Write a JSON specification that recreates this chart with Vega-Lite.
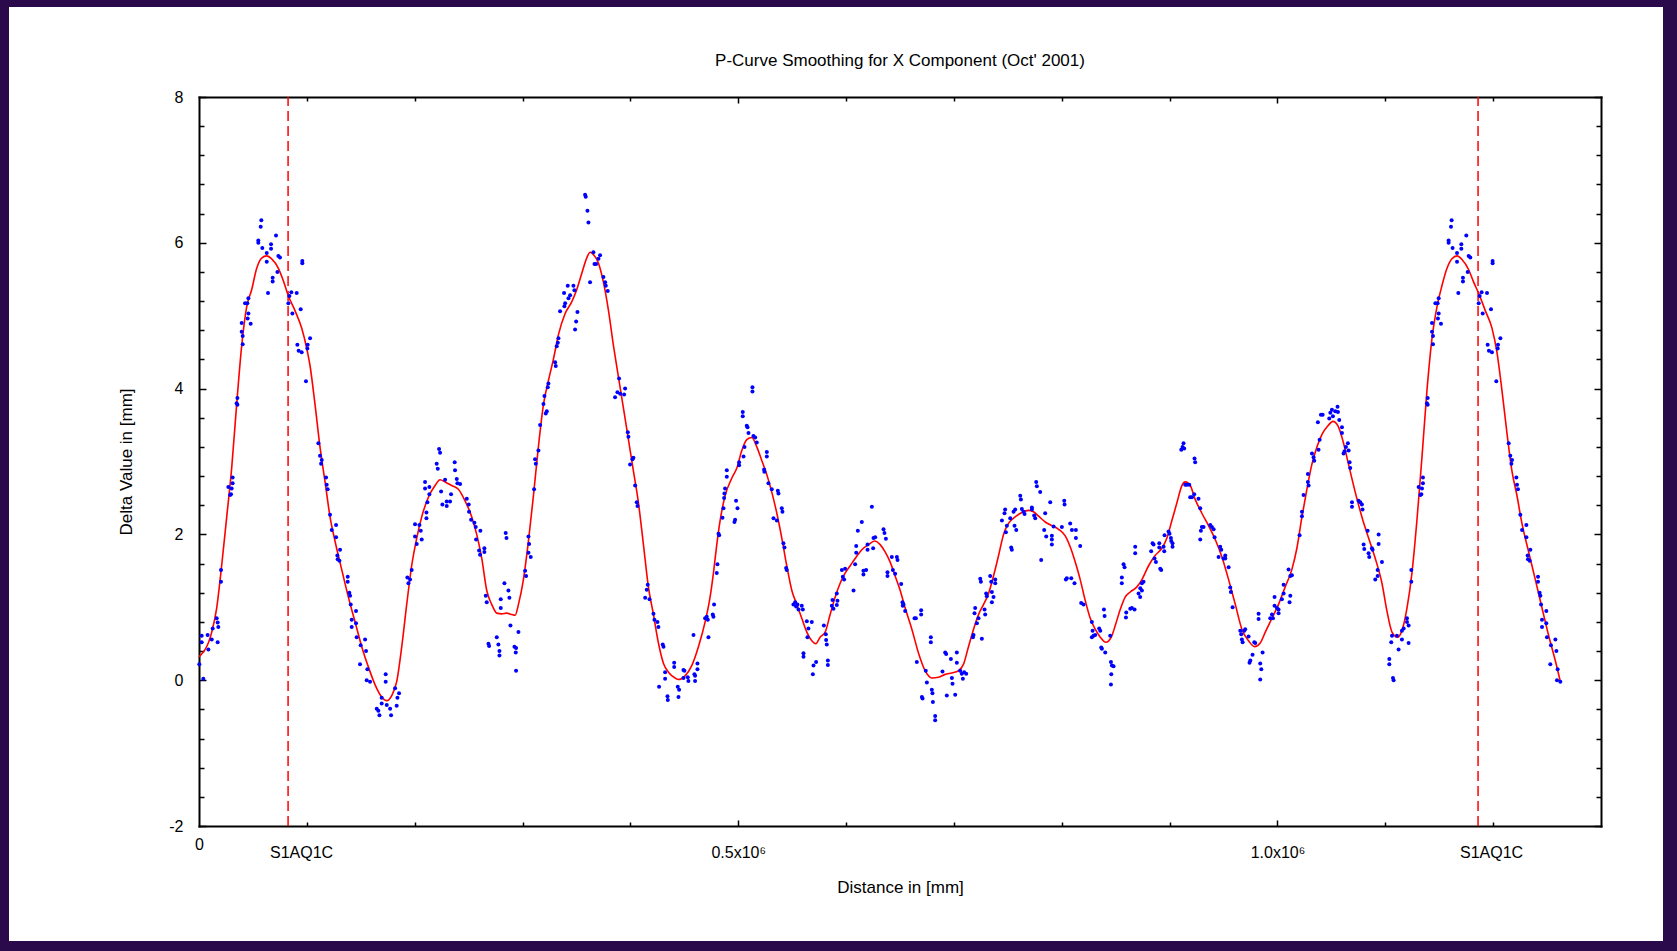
{
  "$schema": "https://vega.github.io/schema/vega-lite/v6.json",
  "width": 1656,
  "height": 936,
  "autosize": {"type": "none"},
  "padding": {"left": 8, "top": 6, "right": 13, "bottom": 9},
  "background": "#2B0A4B",
  "title": {
    "text": "P-Curve Smoothing for X Component (Oct' 2001)",
    "anchor": "middle",
    "frame": "group",
    "offset": -64,
    "dx": 64,
    "fontSize": 17,
    "font": "Liberation Sans",
    "fontWeight": "normal",
    "color": "#000000"
  },
  "config": {
    "view": {"fill": "#FFFFFF", "stroke": "#2B0A4B", "strokeWidth": 2},
    "font": "Liberation Sans",
    "axis": {"labelFont": "Liberation Sans", "titleFont": "Liberation Sans", "grid": false}
  },
  "datasets": {
    "marks": [{"d": 82600, "name": "S1AQ1C"}, {"d": 1186000, "name": "S1AQ1C"}],
    "curve": [
      {"d":0,"v":0.32},{"d":11800,"v":0.66},{"d":16400,"v":0.99},{"d":21000,"v":1.57},{"d":25700,"v":2.24},{"d":30300,"v":2.91},{"d":34900,"v":3.78},{"d":39600,"v":4.59},{"d":44200,"v":5.12},{"d":48900,"v":5.36},{"d":53500,"v":5.65},{"d":58100,"v":5.79},{"d":62800,"v":5.82},{"d":67400,"v":5.78},{"d":73600,"v":5.65},{"d":78200,"v":5.48},{"d":82900,"v":5.27},{"d":89000,"v":5.07},{"d":95200,"v":4.83},{"d":99900,"v":4.55},{"d":103000,"v":4.31},{"d":107600,"v":3.78},{"d":112200,"v":3.2},{"d":116900,"v":2.72},{"d":121500,"v":2.24},{"d":126100,"v":1.91},{"d":132300,"v":1.52},{"d":138500,"v":1.14},{"d":144700,"v":0.8},{"d":150900,"v":0.46},{"d":157100,"v":0.18},{"d":163200,"v":-0.06},{"d":169400,"v":-0.23},{"d":174100,"v":-0.28},{"d":178700,"v":-0.21},{"d":183300,"v":-0.02},{"d":188000,"v":0.46},{"d":192600,"v":1.04},{"d":197200,"v":1.57},{"d":201900,"v":1.95},{"d":206500,"v":2.24},{"d":212700,"v":2.51},{"d":218900,"v":2.67},{"d":223500,"v":2.75},{"d":228200,"v":2.72},{"d":234300,"v":2.67},{"d":240500,"v":2.62},{"d":246700,"v":2.46},{"d":252900,"v":2.24},{"d":257500,"v":2.0},{"d":262200,"v":1.67},{"d":266800,"v":1.23},{"d":271400,"v":1.04},{"d":276100,"v":0.92},{"d":280700,"v":0.91},{"d":285300,"v":0.92},{"d":290000,"v":0.9},{"d":293100,"v":0.89},{"d":296200,"v":1.04},{"d":300800,"v":1.38},{"d":305500,"v":1.91},{"d":310100,"v":2.53},{"d":314700,"v":3.2},{"d":319400,"v":3.78},{"d":324000,"v":4.11},{"d":328600,"v":4.4},{"d":333300,"v":4.74},{"d":339500,"v":5.03},{"d":345600,"v":5.19},{"d":350300,"v":5.36},{"d":354900,"v":5.58},{"d":359500,"v":5.79},{"d":362600,"v":5.87},{"d":365700,"v":5.84},{"d":370400,"v":5.72},{"d":375000,"v":5.46},{"d":379700,"v":5.07},{"d":384300,"v":4.59},{"d":388900,"v":4.16},{"d":393600,"v":3.73},{"d":398200,"v":3.3},{"d":402800,"v":2.87},{"d":407500,"v":2.43},{"d":412100,"v":1.86},{"d":416700,"v":1.28},{"d":421400,"v":0.9},{"d":426000,"v":0.51},{"d":430700,"v":0.23},{"d":435300,"v":0.11},{"d":441500,"v":0.03},{"d":444600,"v":0.01},{"d":450700,"v":0.06},{"d":456900,"v":0.2},{"d":463100,"v":0.46},{"d":469300,"v":0.8},{"d":473900,"v":1.14},{"d":477000,"v":1.47},{"d":480100,"v":1.86},{"d":483200,"v":2.19},{"d":487800,"v":2.53},{"d":494000,"v":2.77},{"d":498700,"v":2.91},{"d":503300,"v":3.15},{"d":507900,"v":3.3},{"d":512600,"v":3.33},{"d":517200,"v":3.2},{"d":521900,"v":3.01},{"d":526500,"v":2.82},{"d":531100,"v":2.58},{"d":535800,"v":2.29},{"d":540400,"v":1.95},{"d":545000,"v":1.57},{"d":549700,"v":1.23},{"d":554300,"v":1.04},{"d":558900,"v":0.85},{"d":563600,"v":0.66},{"d":568200,"v":0.54},{"d":571900,"v":0.5},{"d":575900,"v":0.59},{"d":580600,"v":0.66},{"d":585200,"v":0.9},{"d":589900,"v":1.14},{"d":594500,"v":1.33},{"d":599100,"v":1.47},{"d":603800,"v":1.57},{"d":608400,"v":1.67},{"d":614600,"v":1.79},{"d":620800,"v":1.86},{"d":626400,"v":1.91},{"d":631600,"v":1.86},{"d":636200,"v":1.76},{"d":640900,"v":1.62},{"d":645500,"v":1.43},{"d":650200,"v":1.23},{"d":654800,"v":0.99},{"d":661000,"v":0.7},{"d":667200,"v":0.37},{"d":673300,"v":0.13},{"d":679500,"v":0.03},{"d":685700,"v":0.04},{"d":691900,"v":0.08},{"d":698100,"v":0.1},{"d":704300,"v":0.13},{"d":708900,"v":0.22},{"d":713500,"v":0.46},{"d":718200,"v":0.7},{"d":722800,"v":0.9},{"d":727500,"v":1.04},{"d":732100,"v":1.19},{"d":736700,"v":1.43},{"d":741400,"v":1.71},{"d":746000,"v":2.0},{"d":750600,"v":2.15},{"d":756800,"v":2.24},{"d":763000,"v":2.3},{"d":769200,"v":2.33},{"d":773800,"v":2.31},{"d":778500,"v":2.25},{"d":784700,"v":2.17},{"d":790800,"v":2.12},{"d":797000,"v":2.07},{"d":803200,"v":1.98},{"d":807800,"v":1.83},{"d":812500,"v":1.62},{"d":817100,"v":1.38},{"d":821800,"v":1.09},{"d":826400,"v":0.85},{"d":831000,"v":0.7},{"d":835700,"v":0.59},{"d":840900,"v":0.52},{"d":845900,"v":0.59},{"d":849600,"v":0.75},{"d":854200,"v":0.97},{"d":858800,"v":1.14},{"d":863500,"v":1.21},{"d":869700,"v":1.28},{"d":874300,"v":1.38},{"d":880500,"v":1.57},{"d":886600,"v":1.71},{"d":892800,"v":1.81},{"d":897500,"v":1.95},{"d":902100,"v":2.19},{"d":906700,"v":2.43},{"d":911400,"v":2.67},{"d":914500,"v":2.72},{"d":919100,"v":2.67},{"d":923700,"v":2.48},{"d":929900,"v":2.29},{"d":936100,"v":2.12},{"d":942300,"v":1.93},{"d":948500,"v":1.69},{"d":954700,"v":1.38},{"d":960900,"v":1.04},{"d":967000,"v":0.7},{"d":973200,"v":0.54},{"d":978800,"v":0.46},{"d":984000,"v":0.51},{"d":988700,"v":0.66},{"d":994900,"v":0.85},{"d":1001000,"v":1.04},{"d":1007200,"v":1.28},{"d":1013400,"v":1.52},{"d":1018000,"v":1.81},{"d":1022700,"v":2.24},{"d":1027300,"v":2.62},{"d":1031900,"v":2.96},{"d":1036600,"v":3.2},{"d":1041200,"v":3.37},{"d":1046800,"v":3.49},{"d":1051400,"v":3.55},{"d":1056100,"v":3.49},{"d":1060400,"v":3.3},{"d":1065900,"v":2.96},{"d":1072100,"v":2.58},{"d":1078300,"v":2.24},{"d":1084500,"v":1.95},{"d":1090700,"v":1.67},{"d":1096900,"v":1.33},{"d":1101500,"v":0.95},{"d":1106200,"v":0.66},{"d":1111400,"v":0.59},{"d":1115400,"v":0.68},{"d":1120100,"v":0.99},{"d":1124700,"v":1.47},{"d":1129300,"v":2.19},{"d":1134000,"v":3.06},{"d":1138600,"v":3.97},{"d":1143300,"v":4.69},{"d":1147900,"v":5.12},{"d":1152500,"v":5.41},{"d":1157200,"v":5.65},{"d":1161800,"v":5.78},{"d":1166500,"v":5.82},{"d":1171100,"v":5.77},{"d":1177300,"v":5.63},{"d":1181900,"v":5.46},{"d":1186500,"v":5.31},{"d":1192700,"v":5.07},{"d":1198900,"v":4.83},{"d":1203500,"v":4.5},{"d":1208200,"v":3.97},{"d":1212800,"v":3.39},{"d":1217400,"v":2.87},{"d":1222100,"v":2.53},{"d":1226700,"v":2.15},{"d":1232900,"v":1.76},{"d":1239100,"v":1.38},{"d":1245300,"v":0.99},{"d":1251500,"v":0.61},{"d":1257600,"v":0.27},{"d":1262300,"v":-0.02}
    ],
    "pts": [
      {"d":300,"v":0.22},{"d":2500,"v":0.61},{"d":2500,"v":0.52},{"d":4000,"v":0.02},{"d":8000,"v":0.62},{"d":8700,"v":0.42},{"d":11800,"v":0.56},{"d":12700,"v":0.71},{"d":16400,"v":0.85},{"d":17300,"v":0.79},{"d":17900,"v":0.73},{"d":17300,"v":0.52},{"d":20400,"v":1.51},{"d":20400,"v":1.35},{"d":27200,"v":2.65},{"d":28800,"v":2.54},{"d":30300,"v":2.63},{"d":31200,"v":2.7},{"d":31200,"v":2.78},{"d":29700,"v":2.55},{"d":35600,"v":3.87},{"d":35600,"v":3.78},{"d":34900,"v":3.8},{"d":39600,"v":4.9},{"d":39600,"v":4.78},{"d":40500,"v":4.72},{"d":40500,"v":4.61},{"d":42700,"v":5.17},{"d":44800,"v":5.17},{"d":45800,"v":5.24},{"d":45800,"v":5.03},{"d":45100,"v":4.96},{"d":47900,"v":4.89},{"d":55000,"v":6.03},{"d":55000,"v":6.0},{"d":57200,"v":6.22},{"d":57800,"v":6.31},{"d":58700,"v":5.93},{"d":62800,"v":5.86},{"d":62800,"v":5.74},{"d":64000,"v":5.31},{"d":66800,"v":5.98},{"d":66800,"v":5.92},{"d":68300,"v":5.47},{"d":68300,"v":5.52},{"d":71400,"v":6.1},{"d":72700,"v":5.6},{"d":73600,"v":5.82},{"d":75100,"v":5.8},{"d":82900,"v":5.17},{"d":83800,"v":5.27},{"d":85600,"v":5.32},{"d":86600,"v":5.03},{"d":90600,"v":5.31},{"d":91200,"v":4.6},{"d":92400,"v":4.52},{"d":95200,"v":4.5},{"d":94300,"v":5.09},{"d":95800,"v":5.75},{"d":95800,"v":5.72},{"d":99200,"v":4.1},{"d":100800,"v":4.6},{"d":100500,"v":4.55},{"d":103000,"v":4.69},{"d":110700,"v":3.25},{"d":112200,"v":3.08},{"d":113200,"v":2.97},{"d":113800,"v":3.02},{"d":117800,"v":2.78},{"d":118400,"v":2.68},{"d":119300,"v":2.62},{"d":121500,"v":2.27},{"d":123100,"v":2.06},{"d":127100,"v":2.13},{"d":127100,"v":1.96},{"d":130800,"v":1.79},{"d":128300,"v":1.71},{"d":128600,"v":1.66},{"d":130200,"v":1.64},{"d":137900,"v":1.42},{"d":137900,"v":1.35},{"d":139400,"v":1.2},{"d":140100,"v":1.16},{"d":140700,"v":1.04},{"d":141600,"v":0.83},{"d":141600,"v":0.73},{"d":145600,"v":0.95},{"d":145600,"v":0.78},{"d":146200,"v":0.59},{"d":149900,"v":0.48},{"d":154000,"v":0.56},{"d":154900,"v":0.4},{"d":149300,"v":0.22},{"d":156100,"v":0.15},{"d":155500,"v":0.0},{"d":158600,"v":-0.02},
      {"d":164800,"v":-0.39},{"d":166300,"v":-0.42},{"d":167300,"v":-0.48},{"d":169400,"v":-0.24},{"d":169400,"v":-0.32},{"d":173100,"v":0.08},{"d":173100,"v":-0.02},{"d":174100,"v":-0.34},{"d":177200,"v":-0.39},{"d":178100,"v":-0.48},{"d":181800,"v":-0.11},{"d":183300,"v":-0.35},{"d":184000,"v":-0.24},{"d":185500,"v":-0.18},{"d":193200,"v":1.41},{"d":194200,"v":1.33},{"d":195700,"v":1.38},{"d":197200,"v":1.51},{"d":200300,"v":1.97},{"d":200300,"v":2.14},{"d":201900,"v":1.87},{"d":204400,"v":2.13},{"d":205600,"v":2.05},{"d":206500,"v":1.93},{"d":209600,"v":2.72},{"d":209600,"v":2.63},{"d":211800,"v":2.44},{"d":210900,"v":2.3},{"d":210900,"v":2.22},{"d":213600,"v":2.55},{"d":213600,"v":2.65},{"d":220400,"v":2.97},{"d":221400,"v":2.9},{"d":222600,"v":3.17},{"d":223500,"v":3.12},{"d":224500,"v":2.59},{"d":225700,"v":2.41},{"d":228200,"v":2.75},{"d":229700,"v":2.45},{"d":229700,"v":2.39},{"d":232800,"v":2.45},{"d":233700,"v":2.55},{"d":237100,"v":2.99},{"d":237400,"v":2.88},{"d":239000,"v":2.76},{"d":239600,"v":2.7},{"d":242100,"v":2.69},{"d":248300,"v":2.49},{"d":250100,"v":2.41},{"d":250400,"v":2.31},{"d":252300,"v":2.2},{"d":255400,"v":2.16},{"d":256900,"v":1.93},{"d":256600,"v":2.1},{"d":260900,"v":2.05},{"d":259700,"v":1.78},{"d":260600,"v":1.72},{"d":264600,"v":1.81},{"d":264600,"v":1.76},{"d":265900,"v":1.16},{"d":266800,"v":1.07},{"d":268400,"v":0.5},{"d":269000,"v":0.47},{"d":276100,"v":0.59},{"d":277600,"v":0.49},{"d":278600,"v":0.4},{"d":278600,"v":0.34},{"d":279800,"v":1.11},{"d":279800,"v":0.99},{"d":283200,"v":1.33},{"d":284400,"v":2.02},{"d":285100,"v":1.95},{"d":286900,"v":1.23},{"d":287800,"v":1.13},{"d":288800,"v":0.75},{"d":292500,"v":0.46},{"d":293700,"v":0.38},{"d":294000,"v":0.44},{"d":294000,"v":0.13},{"d":296200,"v":0.66},{"d":302400,"v":1.5},{"d":303300,"v":1.43},{"d":305500,"v":1.97},{"d":306100,"v":1.87},{"d":305500,"v":1.75},{"d":307600,"v":1.69},{"d":310700,"v":2.62},{"d":311600,"v":3.03},{"d":312300,"v":2.97},{"d":314700,"v":3.15},{"d":316300,"v":3.5},{"d":319400,"v":3.79},{"d":320300,"v":3.9},{"d":321500,"v":3.66},{"d":322500,"v":3.69},{"d":323400,"v":4.02},{"d":324000,"v":4.07},{"d":330200,"v":4.36},{"d":330800,"v":4.31},{"d":331700,"v":4.58},{"d":332700,"v":4.63},{"d":333300,"v":4.69},{"d":334800,"v":5.06},{"d":338800,"v":5.13},{"d":338500,"v":5.31},{"d":339500,"v":5.17},{"d":341900,"v":5.41},{"d":342600,"v":5.24},{"d":344100,"v":5.28},{"d":347200,"v":5.41},{"d":348100,"v":5.35},{"d":348700,"v":4.81},{"d":349700,"v":4.92},{"d":350900,"v":5.05},{"d":358000,"v":6.66},{"d":358600,"v":6.63},{"d":360200,"v":6.44},{"d":361100,"v":6.28},{"d":362600,"v":5.46},{"d":365700,"v":5.87},{"d":366700,"v":5.71},{"d":368200,"v":5.71},{"d":370400,"v":5.78},{"d":371900,"v":5.83},{"d":375000,"v":5.53},{"d":376600,"v":5.46},{"d":377200,"v":5.41},{"d":379000,"v":5.34},{"d":385800,"v":3.88},{"d":388000,"v":3.95},{"d":389500,"v":4.14},{"d":390500,"v":3.93},{"d":394200,"v":3.92},{"d":395100,"v":4.0},{"d":397600,"v":3.4},{"d":398200,"v":3.34},{"d":399700,"v":2.96},{"d":401900,"v":3.03},{"d":402800,"v":3.05},{"d":404400,"v":2.67},{"d":405900,"v":2.44},{"d":406600,"v":2.39},{"d":413700,"v":1.13},{"d":415200,"v":1.24},{"d":416100,"v":1.31},{"d":417700,"v":1.11},{"d":421400,"v":0.91},{"d":422300,"v":0.83},{"d":425100,"v":0.8},{"d":426000,"v":0.73},{"d":430000,"v":0.49},{"d":430700,"v":0.46},{"d":432200,"v":0.11},{"d":432200,"v":0.02},{"d":426600,"v":-0.09},{"d":434400,"v":-0.22},{"d":434700,"v":-0.27},{"d":440600,"v":0.24},{"d":440600,"v":0.18},
      {"d":443900,"v":-0.09},{"d":445200,"v":-0.13},{"d":444600,"v":-0.23},{"d":449200,"v":0.14},{"d":450100,"v":0.13},{"d":449200,"v":0.03},{"d":453200,"v":0.04},{"d":453800,"v":-0.01},{"d":458500,"v":0.62},{"d":459400,"v":0.08},{"d":460000,"v":0.06},{"d":460000,"v":-0.01},{"d":462200,"v":0.23},{"d":462200,"v":0.15},{"d":469300,"v":0.85},{"d":470800,"v":0.87},{"d":471800,"v":0.83},{"d":472400,"v":0.59},{"d":476400,"v":0.9},{"d":477600,"v":1.04},{"d":477000,"v":0.87},{"d":480100,"v":1.47},{"d":480700,"v":1.59},{"d":481700,"v":2.01},{"d":482300,"v":1.99},{"d":485400,"v":2.23},{"d":486300,"v":2.36},{"d":486900,"v":2.5},{"d":487200,"v":2.56},{"d":487800,"v":2.63},{"d":489400,"v":2.79},{"d":489400,"v":2.88},{"d":496500,"v":2.17},{"d":497100,"v":2.2},{"d":498000,"v":2.46},{"d":499300,"v":2.36},{"d":500800,"v":2.99},{"d":500800,"v":2.95},{"d":504900,"v":3.07},{"d":505800,"v":3.2},{"d":504200,"v":3.68},{"d":504200,"v":3.62},{"d":507900,"v":3.49},{"d":508600,"v":3.47},{"d":509500,"v":3.39},{"d":513200,"v":4.02},{"d":513200,"v":3.96},{"d":514100,"v":3.35},{"d":515700,"v":3.33},{"d":517200,"v":3.26},{"d":524000,"v":2.89},{"d":524300,"v":2.86},{"d":526500,"v":3.13},{"d":526500,"v":3.07},{"d":528000,"v":2.7},{"d":531100,"v":2.62},{"d":532700,"v":2.22},{"d":535800,"v":2.19},{"d":536700,"v":2.6},{"d":537300,"v":2.56},{"d":540400,"v":2.36},{"d":541000,"v":2.31},{"d":541900,"v":1.88},{"d":542900,"v":1.82},{"d":544400,"v":1.54},{"d":545000,"v":1.51},{"d":551200,"v":1.04},{"d":552800,"v":1.07},{"d":553700,"v":1.01},{"d":554900,"v":1.04},{"d":555900,"v":0.97},{"d":558900,"v":1.02},{"d":559900,"v":0.97},{"d":563600,"v":0.81},{"d":565100,"v":0.71},{"d":564200,"v":0.59},{"d":568200,"v":0.8},{"d":560500,"v":0.37},{"d":560500,"v":0.32},{"d":569800,"v":0.2},{"d":569200,"v":0.08},{"d":572200,"v":0.25},{"d":579400,"v":0.75},{"d":581200,"v":0.63},{"d":581500,"v":0.55},{"d":582100,"v":0.49},{"d":583100,"v":0.27},{"d":583100,"v":0.21},{"d":586800,"v":1.02},{"d":587400,"v":1.1},{"d":588300,"v":0.98},{"d":591400,"v":1.19},{"d":591400,"v":1.03},{"d":592000,"v":1.09},{"d":596100,"v":1.51},{"d":597000,"v":1.42},{"d":598200,"v":1.38},{"d":599100,"v":1.53},{"d":606900,"v":1.23},{"d":608400,"v":1.59},{"d":609400,"v":1.84},{"d":609400,"v":1.75},{"d":610900,"v":2.05},{"d":614600,"v":2.17},{"d":616100,"v":1.5},{"d":616100,"v":1.45},{"d":618600,"v":1.51},{"d":619900,"v":1.79},{"d":619900,"v":1.86},{"d":623900,"v":2.38},{"d":625100,"v":1.81},{"d":625400,"v":1.95},{"d":627000,"v":1.96},{"d":634700,"v":2.07},{"d":635600,"v":2.02},{"d":636900,"v":1.94},{"d":638400,"v":1.48},{"d":638400,"v":1.43},{"d":642400,"v":1.69},{"d":643400,"v":1.51},{"d":645500,"v":1.46},{"d":647100,"v":1.69},{"d":647700,"v":1.65},{"d":651100,"v":1.32},{"d":652300,"v":1.07},{"d":652600,"v":1.02},{"d":653200,"v":1.04},{"d":654800,"v":0.95},{"d":663500,"v":0.85},{"d":664700,"v":0.85},{"d":665600,"v":0.25},{"d":669600,"v":0.96},{"d":669600,"v":0.9},{"d":670300,"v":-0.23},{"d":670900,"v":-0.25},{"d":673900,"v":0.13},{"d":674900,"v":-0.03},{"d":678600,"v":0.59},{"d":678600,"v":0.52},{"d":679500,"v":-0.13},{"d":680100,"v":-0.18},{"d":680500,"v":-0.3},{"d":682600,"v":-0.49},{"d":682600,"v":-0.55},{"d":689400,"v":0.12},{"d":691900,"v":0.38},{"d":692800,"v":0.36},{"d":693400,"v":-0.21},{"d":697200,"v":0.29},{"d":698100,"v":0.03},{"d":698700,"v":-0.05},{"d":701200,"v":-0.2},{"d":702700,"v":0.38},{"d":702700,"v":0.24},{"d":705800,"v":0.13},{"d":707300,"v":0.09},{"d":708300,"v":0.02},{"d":709500,"v":0.11},{"d":711400,"v":0.09},{"d":718200,"v":0.62},{"d":717600,"v":0.59},{"d":719100,"v":0.92},{"d":719700,"v":0.99},{"d":721300,"v":0.78},{"d":722800,"v":0.85},{"d":724400,"v":1.39},{"d":725000,"v":1.35},{"d":725900,"v":0.57},{"d":728400,"v":0.97},{"d":729000,"v":0.9},{"d":729900,"v":1.19},{"d":730500,"v":1.15},{"d":733600,"v":1.43},{"d":734600,"v":1.35},{"d":735200,"v":1.21},{"d":735200,"v":1.07},{"d":736700,"v":1.14},{"d":738300,"v":1.38},{"d":738300,"v":1.33},
      {"d":744500,"v":2.19},{"d":746900,"v":2.29},{"d":747500,"v":2.34},{"d":748200,"v":2.03},{"d":749100,"v":2.12},{"d":752200,"v":2.22},{"d":753100,"v":1.82},{"d":753700,"v":1.79},{"d":755300,"v":2.31},{"d":756200,"v":2.12},{"d":756800,"v":2.34},{"d":757800,"v":2.06},{"d":761500,"v":2.53},{"d":762100,"v":2.48},{"d":763000,"v":2.35},{"d":764600,"v":2.31},{"d":765500,"v":2.28},{"d":772300,"v":2.34},{"d":772300,"v":2.37},{"d":774400,"v":2.26},{"d":775400,"v":2.22},{"d":776300,"v":2.72},{"d":776900,"v":2.66},{"d":780000,"v":2.58},{"d":780900,"v":1.65},{"d":783700,"v":2.06},{"d":784600,"v":2.29},{"d":785600,"v":1.97},{"d":789300,"v":2.44},{"d":790800,"v":1.98},{"d":790800,"v":1.93},{"d":790800,"v":1.86},{"d":792400,"v":2.11},{"d":800100,"v":2.1},{"d":802300,"v":2.46},{"d":802600,"v":2.41},{"d":804700,"v":1.4},{"d":803800,"v":1.38},{"d":807800,"v":2.15},{"d":808800,"v":1.4},{"d":809400,"v":2.06},{"d":811800,"v":1.33},{"d":813100,"v":2.06},{"d":813100,"v":1.95},{"d":817100,"v":1.84},{"d":818000,"v":1.06},{"d":820200,"v":1.04},{"d":827900,"v":0.8},{"d":828600,"v":0.68},{"d":829500,"v":0.61},{"d":831000,"v":0.62},{"d":827900,"v":0.59},{"d":834700,"v":0.71},{"d":835700,"v":0.68},{"d":839100,"v":0.97},{"d":839700,"v":0.88},{"d":836600,"v":0.45},{"d":837200,"v":0.43},{"d":840300,"v":0.38},{"d":844900,"v":0.61},{"d":845600,"v":0.25},{"d":846500,"v":0.2},{"d":848000,"v":0.19},{"d":845900,"v":0.08},{"d":845600,"v":-0.06},{"d":855700,"v":1.41},{"d":855700,"v":1.33},{"d":857300,"v":1.59},{"d":858200,"v":1.55},{"d":859800,"v":0.93},{"d":859500,"v":0.86},{"d":863500,"v":0.98},{"d":865000,"v":0.99},{"d":867500,"v":0.97},{"d":868100,"v":1.83},{"d":868100,"v":1.74},{"d":871200,"v":1.19},{"d":872800,"v":1.26},{"d":874300,"v":1.23},{"d":874300,"v":1.33},{"d":875800,"v":1.35},{"d":872700,"v":1.14},
      {"d":882900,"v":1.77},{"d":884200,"v":1.88},{"d":885100,"v":1.86},{"d":886000,"v":1.67},{"d":887300,"v":1.62},{"d":890400,"v":1.88},{"d":890400,"v":1.82},{"d":891300,"v":1.53},{"d":892200,"v":1.51},{"d":894400,"v":1.83},{"d":895000,"v":1.77},{"d":895300,"v":1.99},{"d":899000,"v":2.04},{"d":899900,"v":2.01},{"d":901200,"v":1.95},{"d":901500,"v":1.91},{"d":902700,"v":1.88},{"d":902700,"v":1.83},{"d":910800,"v":3.16},{"d":912000,"v":3.2},{"d":912900,"v":3.25},{"d":913500,"v":3.18},{"d":914500,"v":2.68},{"d":916000,"v":2.68},{"d":918200,"v":2.68},{"d":919100,"v":2.51},{"d":920700,"v":2.51},{"d":923100,"v":3.04},{"d":923700,"v":2.99},{"d":922800,"v":2.55},{"d":926800,"v":2.49},{"d":928400,"v":2.36},{"d":929000,"v":2.05},{"d":929900,"v":2.1},{"d":928400,"v":1.93},{"d":931500,"v":2.1},{"d":937700,"v":2.13},{"d":939200,"v":2.1},{"d":940800,"v":2.07},{"d":941700,"v":1.96},{"d":945400,"v":1.69},{"d":946900,"v":1.83},{"d":947900,"v":1.79},{"d":950000,"v":1.67},{"d":951600,"v":1.71},{"d":951600,"v":1.67},{"d":954700,"v":1.55},{"d":956200,"v":1.27},{"d":956800,"v":1.21},{"d":958400,"v":1.0},{"d":965500,"v":0.68},{"d":966400,"v":0.63},{"d":967000,"v":0.56},{"d":967700,"v":0.52},{"d":969200,"v":0.68},{"d":970100,"v":0.7},{"d":973200,"v":0.6},{"d":976900,"v":0.35},{"d":974800,"v":0.27},{"d":974100,"v":0.24},{"d":978500,"v":0.52},{"d":979400,"v":0.51},{"d":982500,"v":0.91},{"d":982500,"v":0.84},{"d":984000,"v":0.23},{"d":985000,"v":0.15},{"d":984000,"v":0.01},{"d":986200,"v":0.38},{"d":993300,"v":0.85},{"d":994900,"v":0.9},{"d":995800,"v":0.85},{"d":997300,"v":1.14},{"d":997300,"v":1.02},{"d":999500,"v":0.99},{"d":1001000,"v":0.97},{"d":1001000,"v":0.92},{"d":1005700,"v":1.31},{"d":1004100,"v":1.11},{"d":1005700,"v":1.19},{"d":1010300,"v":1.52},{"d":1011900,"v":1.16},{"d":1011200,"v":1.07},{"d":1011900,"v":1.43},{"d":1013400,"v":1.44},{"d":1020500,"v":1.99},{"d":1022700,"v":2.31},{"d":1022700,"v":2.25},{"d":1024200,"v":2.54},{"d":1028200,"v":2.72},{"d":1028900,"v":2.67},{"d":1028200,"v":2.83},{"d":1033500,"v":3.06},{"d":1034100,"v":3.01},{"d":1032000,"v":3.11},{"d":1037500,"v":3.54},{"d":1038100,"v":3.16},{"d":1039100,"v":3.3},{"d":1040300,"v":3.64},{"d":1041900,"v":3.64},{"d":1048000,"v":3.59},{"d":1049000,"v":3.67},{"d":1050500,"v":3.71},{"d":1051400,"v":3.62},{"d":1053600,"v":3.69},{"d":1055700,"v":3.75},{"d":1056100,"v":3.68},{"d":1057300,"v":3.57},{"d":1059800,"v":3.47},{"d":1059800,"v":3.39},{"d":1061300,"v":3.11},{"d":1062200,"v":3.14},{"d":1063500,"v":3.2},{"d":1065300,"v":3.25},{"d":1066000,"v":3.15},{"d":1066900,"v":2.99},{"d":1067500,"v":2.91},{"d":1069100,"v":2.44},{"d":1069100,"v":2.38},{"d":1075200,"v":2.46},{"d":1076800,"v":2.44},{"d":1078300,"v":2.41},{"d":1078900,"v":2.34},{"d":1079900,"v":1.86},{"d":1080500,"v":1.8},{"d":1083600,"v":2.05},{"d":1084500,"v":1.74},{"d":1085100,"v":1.69},{"d":1087600,"v":1.81},{"d":1088200,"v":1.79},{"d":1090700,"v":1.38},{"d":1093800,"v":2.0},{"d":1093800,"v":1.87},{"d":1096900,"v":1.62},{"d":1092900,"v":1.51},{"d":1092900,"v":1.43},
      {"d":1103700,"v":0.29},{"d":1103700,"v":0.22},{"d":1107100,"v":0.03},{"d":1107700,"v":0.0},{"d":1106200,"v":0.61},{"d":1105500,"v":0.52},{"d":1110800,"v":0.61},{"d":1112300,"v":0.42},{"d":1115400,"v":0.68},{"d":1115400,"v":0.56},{"d":1117000,"v":0.71},{"d":1120100,"v":0.85},{"d":1120100,"v":0.8},{"d":1121600,"v":0.75},{"d":1121600,"v":0.51},{"d":1124100,"v":1.51},{"d":1124100,"v":1.35},
      {"d":1130900,"v":2.65},{"d":1132500,"v":2.54},{"d":1134000,"v":2.63},{"d":1134900,"v":2.7},{"d":1134900,"v":2.78},{"d":1133400,"v":2.55},{"d":1139300,"v":3.87},{"d":1139300,"v":3.78},{"d":1138600,"v":3.8},{"d":1143300,"v":4.9},{"d":1143300,"v":4.78},{"d":1144200,"v":4.72},{"d":1144200,"v":4.61},{"d":1146400,"v":5.17},{"d":1148500,"v":5.17},{"d":1149500,"v":5.24},{"d":1149500,"v":5.03},{"d":1148800,"v":4.96},{"d":1151600,"v":4.89},{"d":1158700,"v":6.03},{"d":1158700,"v":6.0},{"d":1160900,"v":6.22},{"d":1161500,"v":6.31},{"d":1162400,"v":5.93},{"d":1166500,"v":5.86},{"d":1166500,"v":5.74},{"d":1167700,"v":5.31},{"d":1170500,"v":5.98},{"d":1170500,"v":5.92},{"d":1172000,"v":5.47},{"d":1172000,"v":5.52},{"d":1175100,"v":6.1},{"d":1176400,"v":5.6},{"d":1177300,"v":5.82},{"d":1178800,"v":5.8},{"d":1186600,"v":5.17},{"d":1187500,"v":5.27},{"d":1189300,"v":5.32},{"d":1190300,"v":5.03},{"d":1194300,"v":5.31},{"d":1194900,"v":4.6},{"d":1196100,"v":4.52},{"d":1198900,"v":4.5},{"d":1198000,"v":5.09},{"d":1199500,"v":5.75},{"d":1199500,"v":5.72},{"d":1202900,"v":4.1},{"d":1204500,"v":4.6},{"d":1204200,"v":4.55},{"d":1206700,"v":4.69},{"d":1214400,"v":3.25},{"d":1215900,"v":3.08},{"d":1216900,"v":2.97},{"d":1217500,"v":3.02},{"d":1221500,"v":2.78},{"d":1222100,"v":2.68},{"d":1223000,"v":2.62},{"d":1225200,"v":2.27},{"d":1226800,"v":2.06},{"d":1230800,"v":2.13},{"d":1230800,"v":1.96},{"d":1234500,"v":1.79},{"d":1232000,"v":1.71},{"d":1232300,"v":1.66},{"d":1233900,"v":1.64},{"d":1241600,"v":1.42},{"d":1241600,"v":1.35},{"d":1243100,"v":1.2},{"d":1243800,"v":1.16},{"d":1244400,"v":1.04},{"d":1245300,"v":0.83},{"d":1245300,"v":0.73},{"d":1249300,"v":0.95},{"d":1249300,"v":0.78},{"d":1249900,"v":0.59},{"d":1253600,"v":0.48},{"d":1257700,"v":0.56},{"d":1258600,"v":0.4},{"d":1253000,"v":0.22},{"d":1259800,"v":0.15},{"d":1259200,"v":0.0},{"d":1262300,"v":-0.02}
    ]
  },
  "layer": [
    {
      "data": {"name": "marks"},
      "mark": {"type": "rule", "color": "#FF0000", "strokeWidth": 1.5, "strokeDash": [10, 5]},
      "encoding": {
        "x": {
          "field": "d", "type": "quantitative",
          "scale": {"domain": [0, 1300000], "range": [191, 1593], "nice": false, "zero": false},
          "axis": {
            "orient": "bottom", "offset": -116,
            "values": [0, 100000, 200000, 300000, 400000, 500000, 600000, 700000, 800000, 900000, 1000000, 1100000, 1200000, 82600, 1186000],
            "labelExpr": "datum.value == 0 ? '0' : datum.value == 500000 ? '0.5x10⁶' : datum.value == 1000000 ? '1.0x10⁶' : (datum.value == 82600 || datum.value == 1186000) ? 'S1AQ1C' : ''",
            "labelFontSize": 16, "labelColor": "#000000", "labelFlush": false, "labelOverlap": false, "labelBound": false,
            "labelPadding": 24,
            "labelBaseline": {"condition": {"test": "datum.value == 0", "value": "middle"}, "value": "top"},
            "labelOffset": {"condition": {"test": "datum.value == 82600 || datum.value == 1186000", "value": 13}, "value": 0},
            "tickSize": {"condition": {"test": "datum.value == 0 || datum.value == 500000 || datum.value == 1000000 || datum.value == 82600 || datum.value == 1186000", "value": -6}, "value": -4},
            "tickOpacity": {"condition": {"test": "datum.value == 0 || datum.value == 82600 || datum.value == 1186000", "value": 0}, "value": 1},
            "tickColor": "#000000", "tickWidth": 1.5,
            "domainColor": "#000000", "domainWidth": 2, "domainCap": "square",
            "title": "Distance in [mm]", "titleFontSize": 17, "titleFontWeight": "normal", "titleColor": "#000000", "titlePadding": 17
          }
        },
        "y": {
          "datum": -2, "type": "quantitative",
          "scale": {"domain": [-2, 8], "range": [820, 91], "nice": false, "zero": false},
          "axis": {
            "orient": "left", "offset": -191,
            "values": [-2, -1.6, -1.2, -0.8, -0.4, 0, 0.4, 0.8, 1.2, 1.6, 2, 2.4, 2.8, 3.2, 3.6, 4, 4.4, 4.8, 5.2, 5.6, 6, 6.4, 6.8, 7.2, 7.6, 8],
            "labelExpr": "datum.value % 2 == 0 ? '' + datum.value : ''",
            "labelFontSize": 16, "labelColor": "#000000", "labelFlush": false, "labelOverlap": false, "labelBound": false,
            "labelPadding": 23, "labelAlign": "right", "labelBaseline": "middle",
            "tickSize": {"condition": {"test": "datum.value % 2 == 0", "value": -7}, "value": -5},
            "tickColor": "#000000", "tickWidth": 1.5,
            "domainColor": "#000000", "domainWidth": 2, "domainCap": "square",
            "title": "Delta Value in [mm]", "titleFontSize": 17, "titleFontWeight": "normal", "titleColor": "#000000", "titlePadding": 33
          }
        },
        "y2": {"datum": 8}
      }
    },
    {
      "data": {"name": "curve"},
      "mark": {"type": "line", "color": "#FF0000", "strokeWidth": 1.6, "interpolate": "monotone"},
      "encoding": {
        "x": {
          "field": "d", "type": "quantitative",
          "scale": {"domain": [0, 1300000], "range": [191, 1593], "nice": false, "zero": false},
          "axis": {
            "orient": "top", "offset": -91,
            "values": [100000, 200000, 300000, 400000, 500000, 600000, 700000, 800000, 900000, 1000000, 1100000, 1200000],
            "labels": false,
            "tickSize": {"condition": {"test": "datum.value == 500000 || datum.value == 1000000", "value": -6}, "value": -4},
            "tickColor": "#000000", "tickWidth": 1.5,
            "domainColor": "#000000", "domainWidth": 2, "domainCap": "square",
            "title": null
          }
        },
        "y": {
          "field": "v", "type": "quantitative",
          "scale": {"domain": [-2, 8], "range": [820, 91], "nice": false, "zero": false},
          "axis": {
            "orient": "right", "offset": -63,
            "values": [-2, -1.6, -1.2, -0.8, -0.4, 0, 0.4, 0.8, 1.2, 1.6, 2, 2.4, 2.8, 3.2, 3.6, 4, 4.4, 4.8, 5.2, 5.6, 6, 6.4, 6.8, 7.2, 7.6, 8],
            "labels": false,
            "tickSize": {"condition": {"test": "datum.value % 2 == 0", "value": -7}, "value": -5},
            "tickColor": "#000000", "tickWidth": 1.5,
            "domainColor": "#000000", "domainWidth": 2, "domainCap": "square",
            "title": null
          }
        }
      }
    },
    {
      "data": {"name": "pts"},
      "mark": {"type": "point", "filled": true, "shape": "circle", "color": "#0000FF", "size": 16, "opacity": 1, "strokeWidth": 0},
      "encoding": {
        "x": {"field": "d", "type": "quantitative", "scale": {"domain": [0, 1300000], "range": [191, 1593], "nice": false, "zero": false}, "axis": null},
        "y": {"field": "v", "type": "quantitative", "scale": {"domain": [-2, 8], "range": [820, 91], "nice": false, "zero": false}, "axis": null}
      }
    }
  ],
  "resolve": {"axis": {"x": "independent", "y": "independent"}}
}
